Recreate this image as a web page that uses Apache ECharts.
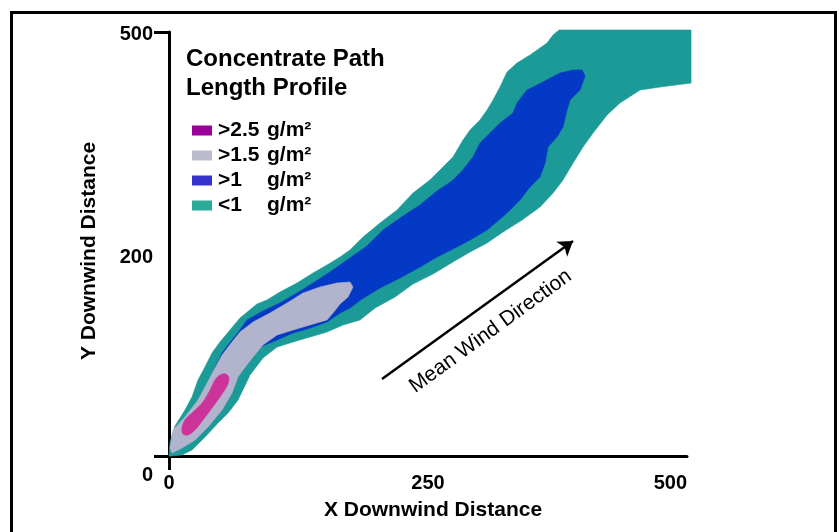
<!DOCTYPE html>
<html>
<head>
<meta charset="utf-8">
<script src="https://cdn.jsdelivr.net/npm/echarts@6/dist/echarts.min.js"></script>
<style>
html,body{margin:0;padding:0;background:#fff;}
#chart{width:839px;height:532px;}
</style>
</head>
<body>
<div id="chart"></div>
<script>
// ---- Data ----
const xTickValues = [0, 250, 500];
const xTickLabels = ['0', '250', '500'];
const yTickValues = [0, 237, 500];
const yTickLabels = ['0', '200', '500'];

const levelLabels = ['>2.5', '>1.5', '>1', '<1'];
const unitLabel = 'g/m²';
const seriesNames = ['>2.5 g/m²', '>1.5 g/m²', '>1 g/m²', '<1 g/m²'];

// contour outlines, [x, y] in axis units
const outlineBelow1 = [
  [0,0],[1.0,16.5],[5.8,35.4],[15.4,54.2],[22.2,69.6],[28.0,89.6],[34.7,105.0],[41.5,121.5],
  [49.2,134.4],[58.9,148.6],[68.5,162.7],[84.9,179.2],[94.6,184.0],[107.1,193.4],[123.6,204.0],
  [139.0,215.8],[152.5,225.2],[165.1,234.7],[174.7,242.9],[187.3,258.2],[203.7,274.8],[220.1,290.1],
  [235.5,310.1],[251.9,325.5],[264.5,340.8],[274.1,352.6],[283.8,372.6],[290.6,384.4],[300.2,396.2],
  [307.0,408.0],[312.8,419.8],[319.5,435.1],[326.3,452.8],[335.9,463.4],[348.5,472.9],[364.9,487.0],
  [370.7,496.4],[376.5,502.3],[503.9,502.3],[503.9,439.8],[474.0,435.1],[454.7,431.6],[435.3,416.3],
  [422.8,402.1],[409.3,380.9],[399.6,364.4],[390.0,345.5],[380.3,325.5],[370.7,310.1],[358.1,293.6],
  [340.8,278.3],[322.4,264.1],[307.0,251.2],[290.6,240.6],[274.1,228.8],[254.8,214.6],[235.5,202.8],
  [218.2,187.5],[198.9,174.5],[184.4,160.4],[168.0,154.5],[152.5,146.2],[136.1,140.3],[119.7,134.4],
  [104.3,128.5],[90.7,115.6],[78.2,95.5],[66.6,66.0],[57.0,50.7],[47.3,38.9],[34.8,22.4],[22.2,7.1],
  [12.5,1.2],[2.9,0]
];
const outlineAbove1 = [
  [42.5,99.1],[51.2,121.5],[60.8,136.8],[68.5,148.6],[75.3,160.4],[90.7,171.0],[107.1,180.4],
  [123.6,192.2],[139.0,204.0],[155.4,217.0],[174.7,233.5],[191.1,247.6],[206.6,266.5],[225.9,283.0],
  [242.3,296.0],[258.7,312.5],[273.2,324.3],[282.8,336.1],[293.5,352.6],[300.2,369.1],[309.9,380.9],
  [319.5,392.7],[332.1,404.5],[335.9,416.3],[345.6,431.6],[361.0,441.0],[377.4,451.6],[390.0,455.2],
  [398.7,455.2],[401.6,448.1],[396.7,431.6],[387.1,419.8],[384.2,408.0],[380.3,388.0],[374.5,376.2],
  [365.8,364.4],[363.0,345.5],[358.1,329.0],[348.5,317.2],[338.8,301.9],[326.3,286.5],[307.0,266.5],
  [290.6,254.7],[274.1,244.1],[258.7,234.7],[242.3,222.9],[223.0,209.9],[203.7,198.1],[186.3,185.1],
  [174.7,174.5],[165.1,168.6],[152.5,158.0],[136.1,150.9],[119.7,145.0],[104.3,136.8],[87.8,128.5],
  [78.2,121.5],[68.5,101.4],[66.6,93.2]
];
const outlineAbove15 = [
  [1.0,9.4],[3.9,30.7],[15.4,46.0],[28.0,66.0],[34.8,81.4],[43.4,101.4],[51.2,119.1],[60.8,134.4],
  [68.5,146.2],[81.1,158.0],[97.5,168.6],[113.9,180.4],[129.4,192.2],[145.8,199.3],[162.2,204.0],
  [174.7,205.2],[177.6,199.3],[172.8,187.5],[165.1,179.2],[158.3,168.6],[152.5,160.4],[136.1,154.5],
  [119.7,148.6],[104.3,142.7],[90.7,130.9],[81.1,116.7],[71.4,101.4],[66.6,93.2],[60.8,74.3],
  [51.2,54.2],[37.6,34.2],[25.1,18.9],[12.5,9.4],[2.9,3.5]
];
const outlineAbove25 = [
  [12.5,33.0],[15.4,42.5],[23.2,51.9],[32.8,63.7],[39.6,77.8],[44.4,89.6],[49.2,95.5],[55.0,96.7],
  [57.9,92.0],[56.0,82.5],[49.2,69.6],[41.5,56.6],[32.8,42.5],[25.1,30.7],[18.3,24.8],[13.5,25.9]
];

const windArrow = [[205.6, 90.8], [390.0, 253.5]];
const windLabelPos = [[310.4, 147.1]];
const windLabel = 'Mean Wind Direction';

// ---- Chart ----
const FONT = '"Liberation Sans", Arial, Helvetica, sans-serif';
const chart = echarts.init(document.getElementById('chart'));

function polygonSeries(name, outline, color, smooth) {
  return {
    name: name,
    type: 'custom',
    coordinateSystem: 'cartesian2d',
    silent: true,
    itemStyle: { color: color },
    data: outline,
    encode: { x: 0, y: 1 },
    renderItem: function (params, api) {
      if (params.dataIndex !== 0) return null;
      return {
        type: 'polygon',
        shape: { points: outline.map(function (p) { return api.coord(p); }), smooth: smooth || 0 },
        style: { fill: color, stroke: color, lineWidth: 0.6 }
      };
    }
  };
}

const legendSwatch = ['#990099', '#bbbccf', '#3333cc', '#2aaa99'];
const fillColors = ['#cc3399', '#b2b3cc', '#0339c5', '#1b9a97'];

const option = {
  animation: false,
  backgroundColor: '#ffffff',
  textStyle: { fontFamily: FONT },
  title: {
    text: 'Concentrate Path\nLength Profile',
    left: 186, top: 45, padding: 0,
    textStyle: { fontFamily: FONT, fontSize: 24, fontWeight: 'bold', color: '#000', lineHeight: 29 }
  },
  legend: {
    orient: 'vertical',
    left: 192, top: 120,
    padding: 0,
    itemWidth: 20, itemHeight: 10, itemGap: 4,
    icon: 'rect',
    selectedMode: false,
    data: seriesNames.map(function (n, i) { return { name: n, itemStyle: { color: legendSwatch[i] } }; }),
    formatter: function (name) {
      const i = seriesNames.indexOf(name);
      return '{a|' + levelLabels[i] + '}{b|' + unitLabel + '}';
    },
    textStyle: {
      fontFamily: FONT, fontSize: 21, fontWeight: 'bold', color: '#000', lineHeight: 21, padding: [0, 0, 0, 1],
      rich: {
        a: { width: 49, fontFamily: FONT, fontSize: 21, fontWeight: 'bold', color: '#000' },
        b: { fontFamily: FONT, fontSize: 21, fontWeight: 'bold', color: '#000' }
      }
    }
  },
  grid: { left: 169, right: 152, top: 32, bottom: 76, containLabel: false },
  xAxis: {
    type: 'value', min: 0, max: 500,
    name: 'X Downwind Distance', nameLocation: 'middle', nameGap: 44,
    nameTextStyle: { fontFamily: FONT, fontSize: 21, fontWeight: 'bold', color: '#000', padding: [0, 0, 0, 10] },
    axisLine: { show: true, onZero: false, lineStyle: { color: '#000', width: 3 } },
    axisTick: { show: true, customValues: [0], length: 14, lineStyle: { color: '#000', width: 3 } },
    splitLine: { show: false },
    axisLabel: {
      customValues: xTickValues,
      margin: 17,
      alignMaxLabel: 'right',
      fontFamily: FONT, fontSize: 20, fontWeight: 'bold', color: '#000',
      formatter: function (v) { const i = xTickValues.indexOf(v); return i >= 0 ? xTickLabels[i] : ''; }
    }
  },
  yAxis: {
    type: 'value', min: 0, max: 500,
    name: 'Y Downwind Distance', nameLocation: 'middle', nameGap: 69,
    nameTextStyle: { fontFamily: FONT, fontSize: 21, fontWeight: 'bold', color: '#000', padding: [0, 14, 0, 0] },
    axisLine: { show: true, onZero: false, lineStyle: { color: '#000', width: 3 } },
    axisTick: { show: true, customValues: [0, 500], length: 15, lineStyle: { color: '#000', width: 3 } },
    splitLine: { show: false },
    axisLabel: {
      customValues: yTickValues,
      margin: 16,
      fontFamily: FONT, fontSize: 20, fontWeight: 'bold', color: '#000',
      formatter: function (v) {
        const i = yTickValues.indexOf(v);
        if (i < 0) return '';
        if (v === 0) return '{low|' + yTickLabels[i] + '}';
        return '{n|' + yTickLabels[i] + '}';
      },
      rich: {
        low: { fontFamily: FONT, fontSize: 20, fontWeight: 'bold', color: '#000', padding: [38, 0, 0, 0] },
        n: { fontFamily: FONT, fontSize: 20, fontWeight: 'bold', color: '#000', padding: [5, 0, 0, 0] }
      }
    }
  },
  graphic: [
    { type: 'rect', left: 9, top: 10, silent: true, z: 100,
      shape: { width: 824, height: 600 },
      style: { fill: 'none', stroke: '#000', lineWidth: 3 } }
  ],
  series: [
    polygonSeries(seriesNames[3], outlineBelow1, fillColors[3]),
    polygonSeries(seriesNames[2], outlineAbove1, fillColors[2]),
    polygonSeries(seriesNames[1], outlineAbove15, fillColors[1]),
    polygonSeries(seriesNames[0], outlineAbove25, fillColors[0], 0.3),
    {
      type: 'lines',
      coordinateSystem: 'cartesian2d',
      silent: true,
      symbol: ['none', 'arrow'],
      symbolSize: 14,
      lineStyle: { color: '#000', width: 2.5, opacity: 1 },
      data: [{ coords: windArrow }],
      z: 5
    },
    {
      type: 'scatter',
      silent: true,
      symbolSize: 0,
      itemStyle: { opacity: 1, color: '#000' },
      data: windLabelPos,
      label: {
        show: true, position: 'inside', formatter: windLabel, rotate: 36,
        fontFamily: FONT, fontSize: 21, color: '#000', opacity: 1,
        textBorderWidth: 0
      },
      z: 5
    }
  ]
};
chart.setOption(option);
</script>
</body>
</html>
